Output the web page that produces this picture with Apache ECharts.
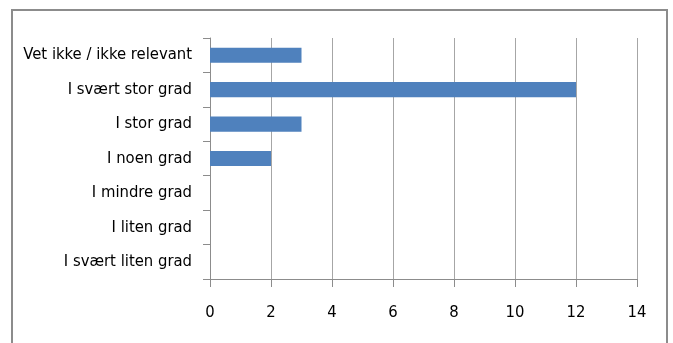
<!DOCTYPE html>
<html><head><meta charset="utf-8">
<script src="https://cdn.jsdelivr.net/npm/echarts@6/dist/echarts.min.js"></script>
<style>html,body{margin:0;padding:0;background:#fff}#c{width:673px;height:343px}</style>
</head><body><div id="c"></div>
<script>
const categories = ["I svært liten grad","I liten grad","I mindre grad","I noen grad","I stor grad","I svært stor grad","Vet ikke / ikke relevant"];
const values = [0,0,0,2,3,12,3];
const xTicks = [0,2,4,6,8,10,12,14];
const font = "'DejaVu Sans Condensed','Liberation Sans',sans-serif";
const chart = echarts.init(document.getElementById('c'), null, {renderer:'canvas'});
chart.setOption({
  animation:false,
  backgroundColor:'#fff',
  graphic:[{type:'rect',shape:{x:12,y:10,width:655,height:345},style:{fill:'none',stroke:'#8c8c8c',lineWidth:2},silent:true}],
  grid:{left:210,right:36,top:38,bottom:64,containLabel:false,outerBoundsMode:'none'},
  xAxis:{type:'value',min:xTicks[0],max:xTicks[xTicks.length-1],interval:2,
    axisLine:{show:true,lineStyle:{color:'#8c8c8c',width:1}},
    axisTick:{show:true,length:8,lineStyle:{color:'#8c8c8c'}},
    splitLine:{show:true,lineStyle:{color:'#a6a6a6',width:1}},
    axisLabel:{color:'#000',fontFamily:font,fontSize:16.5,margin:25}},
  yAxis:{type:'category',data:categories,
    axisLine:{show:true,lineStyle:{color:'#8c8c8c',width:1}},
    axisTick:{show:true,length:7,alignWithLabel:false,lineStyle:{color:'#8c8c8c'}},
    axisLabel:{color:'#000',fontFamily:font,fontSize:16.5,margin:18}},
  series:[{type:'bar',data:values,barWidth:'44%',itemStyle:{color:'#4f81bd'}}]
});
</script></body></html>
